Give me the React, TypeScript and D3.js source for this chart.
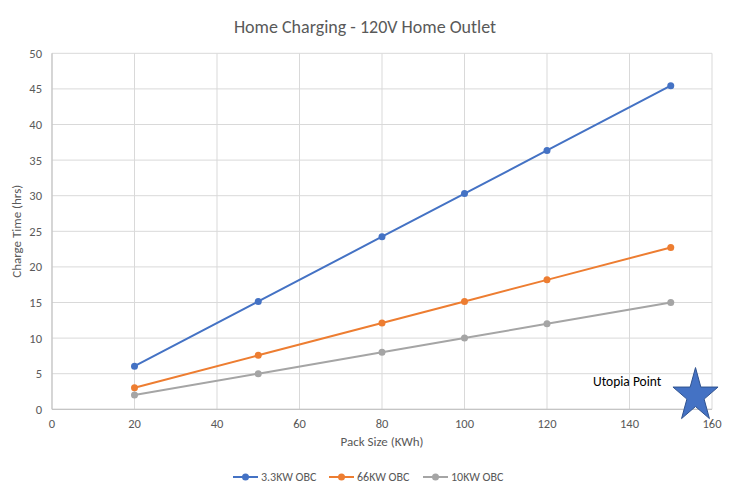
import React from "react";
import * as d3 from "d3";

const packSizes = [20, 50, 80, 100, 120, 150];
const obc33 = [6.06, 15.15, 24.24, 30.3, 36.36, 45.45];
const obc66 = [3.03, 7.58, 12.12, 15.15, 18.18, 22.73];
const obc10 = [2, 5, 8, 10, 12, 15];
const seriesNames = ["3.3KW OBC", "66KW OBC", "10KW OBC"];
const seriesColors = ["#4472C4", "#ED7D31", "#A5A5A5"];
const xTicks = [0, 20, 40, 60, 80, 100, 120, 140, 160];
const yTicks = [0, 5, 10, 15, 20, 25, 30, 35, 40, 45, 50];
const utopia = { x: 156, y: 1.9, label: "Utopia Point" };

const W = 750;
const H = 501;
const FONT = "Calibri, Carlito, 'Open Sans', 'Liberation Sans', sans-serif";

export default function App() {
  const x = d3.scaleLinear().domain([0, 160]).range([52, 712]);
  const y = d3.scaleLinear().domain([0, 50]).range([409.3, 53.3]);
  const series = [obc33, obc66, obc10];
  const line = d3
    .line<[number, number]>()
    .x((d) => x(d[0]))
    .y((d) => y(d[1]));

  const sx = x(utopia.x);
  const sy = y(utopia.y);
  const rx = 23.7;
  const ry = 28.2;
  const starPts: string[] = [];
  for (let i = 0; i < 10; i++) {
    const a = -Math.PI / 2 + (i * Math.PI) / 5;
    const r = i % 2 === 0 ? 1 : 0.382;
    starPts.push(`${sx + Math.cos(a) * r * rx},${sy + Math.sin(a) * r * ry}`);
  }

  const legendX = [233, 329, 423];

  return (
    <svg width={W} height={H} style={{ display: "block", position: "absolute", left: 0, top: 0 }}>
      <rect x={0} y={0} width={W} height={H} fill="#ffffff" />
      <text x={365} y={33} textAnchor="middle" fontFamily={FONT} fontSize={18} fill="#595959">
        Home Charging - 120V Home Outlet
      </text>
      {yTicks.map((t) => (
        <line key={"gy" + t} x1={x(0)} x2={x(160)} y1={y(t)} y2={y(t)} stroke="#D9D9D9" strokeWidth={1} />
      ))}
      {xTicks.map((t) => (
        <line key={"gx" + t} x1={x(t)} x2={x(t)} y1={y(0)} y2={y(50)} stroke="#D9D9D9" strokeWidth={1} />
      ))}
      <line x1={x(0)} x2={x(160)} y1={y(0)} y2={y(0)} stroke="#BFBFBF" strokeWidth={1} />
      <line x1={x(0)} x2={x(0)} y1={y(0)} y2={y(50)} stroke="#BFBFBF" strokeWidth={1} />
      {yTicks.map((t) => (
        <text key={"ty" + t} x={42} y={y(t) + 4.5} textAnchor="end" fontFamily={FONT} fontSize={12.5} fill="#595959">
          {t}
        </text>
      ))}
      {xTicks.map((t) => (
        <text key={"tx" + t} x={x(t)} y={428} textAnchor="middle" fontFamily={FONT} fontSize={12.5} fill="#595959">
          {t}
        </text>
      ))}
      <text x={382} y={446} textAnchor="middle" fontFamily={FONT} fontSize={13} fill="#595959">
        Pack Size (KWh)
      </text>
      <text
        transform={`translate(21, ${(y(0) + y(50)) / 2}) rotate(-90)`}
        textAnchor="middle"
        fontFamily={FONT}
        fontSize={13}
        fill="#595959"
      >
        Charge Time (hrs)
      </text>
      {series.map((vals, si) => {
        const pts = packSizes.map((p, i) => [p, vals[i]] as [number, number]);
        return (
          <g key={"s" + si}>
            <path d={line(pts) || ""} fill="none" stroke={seriesColors[si]} strokeWidth={2} />
            {pts.map((p, i) => (
              <circle key={i} cx={x(p[0])} cy={y(p[1])} r={3.5} fill={seriesColors[si]} />
            ))}
          </g>
        );
      })}
      <polygon points={starPts.join(" ")} fill="#4472C4" stroke="#2F528F" strokeWidth={1} />
      <text x={593} y={386} fontFamily={FONT} fontSize={13.5} fill="#000000">
        {utopia.label}
      </text>
      {seriesNames.map((n, i) => (
        <g key={"l" + i}>
          <line x1={legendX[i]} x2={legendX[i] + 25} y1={477} y2={477} stroke={seriesColors[i]} strokeWidth={2} />
          <circle cx={legendX[i] + 12.5} cy={477} r={3.5} fill={seriesColors[i]} />
          <text x={legendX[i] + 28} y={481} fontFamily={FONT} fontSize={12} fill="#595959">
            {n}
          </text>
        </g>
      ))}
    </svg>
  );
}
